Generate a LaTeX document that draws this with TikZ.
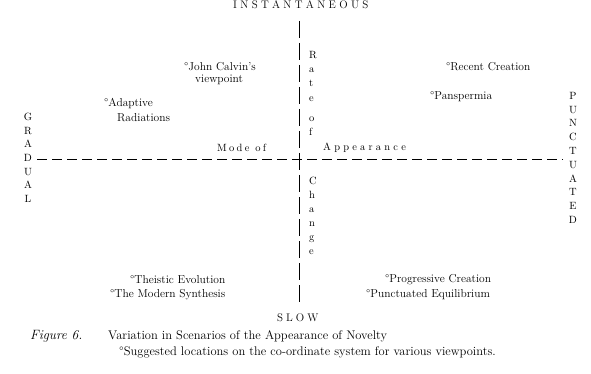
\documentclass[tikz,border=0pt]{standalone}
\usepackage{fontspec}
\newlength{\lsamount}
\def\spaceout#1#2{\setlength{\lsamount}{#1}\spaceoutA#2\relax}
\def\spaceoutA#1{\ifx#1\relax\else#1\kern\lsamount\expandafter\spaceoutA\fi}
\begin{document}
\begin{tikzpicture}[x=1pt,y=-1pt,
  lbl/.style={anchor=west,inner sep=0pt,font=\fontsize{11.5}{13}\selectfont},
  axlbl/.style={inner sep=0pt,font=\fontsize{11}{13}\selectfont},
  vstack/.style={inner sep=0pt,anchor=north,align=center},
  captxt/.style={anchor=west,inner sep=0pt,font=\fontsize{12.5}{14}\selectfont},
  hax/.style={line width=0.8pt,dash pattern=on 10pt off 5pt},
  vax/.style={line width=0.8pt,dash pattern=on 17pt off 5pt}]
\useasboundingbox (0,0) rectangle (591,374);
% axes
\coordinate (top) at (299,21);
\coordinate (bot) at (299,302);
\coordinate (lft) at (37,159);
\coordinate (rgt) at (563,159);
\draw[vax] (top) -- (bot);
\draw[hax] (lft) -- (rgt);
% axis titles
\node[axlbl,anchor=west] (inst) at (233,5) {\spaceout{3.3pt}{INSTANTANEOUS}};
\node[axlbl,anchor=west] (slow) at (277,318) {\spaceout{3pt}{SLOW}};
\node[vstack,font=\fontsize{10.5}{13.6}\selectfont] (grad) at (28,113) {G\\R\\A\\D\\U\\A\\L};
\node[vstack,font=\fontsize{10.5}{13.8}\selectfont] (punc) at (573,92) {P\\U\\N\\C\\T\\U\\A\\T\\E\\D};
\node[vstack,align=left,anchor=north west,font=\fontsize{10.5}{14.3}\selectfont] (rate) at (309,51) {R\\a\\t\\e\\[6pt]o\\f};
\node[vstack,align=left,anchor=north west,font=\fontsize{10.5}{14}\selectfont] (change) at (309,177) {C\\h\\a\\n\\g\\e};
\node[lbl,font=\fontsize{10.5}{12}\selectfont] (mode) at (217,148) {\spaceout{2.3pt}{Mode}\ \spaceout{2.3pt}{of}};
\node[lbl,font=\fontsize{10.5}{12}\selectfont] (appear) at (323,148) {\spaceout{3.2pt}{Appearance}};
% viewpoints
\node[lbl] (calvin) at (184,67) {°John Calvin's};
\node[lbl] (calvin2) at (195,80) {viewpoint};
\node[lbl] (adapt) at (104,104) {°Adaptive};
\node[lbl] (adapt2) at (117,118) {Radiations};
\node[lbl] (recent) at (446,67) {°Recent Creation};
\node[lbl] (pans) at (430,97) {°Panspermia};
\node[lbl] (theist) at (130,280) {°Theistic Evolution};
\node[lbl] (modern) at (110,295) {°The Modern Synthesis};
\node[lbl] (progr) at (385,280) {°Progressive Creation};
\node[lbl] (punceq) at (366,295) {°Punctuated Equilibrium};
% caption
\node[captxt,font=\fontsize{13.5}{15}\selectfont\itshape] (fig) at (30,336) {Figure 6.};
\node[captxt] (cap1) at (108,336) {Variation in Scenarios of the Appearance of Novelty};
\node[captxt] (cap2) at (119,352) {°Suggested locations on the co-ordinate system for various viewpoints.};
\end{tikzpicture}
\end{document}
